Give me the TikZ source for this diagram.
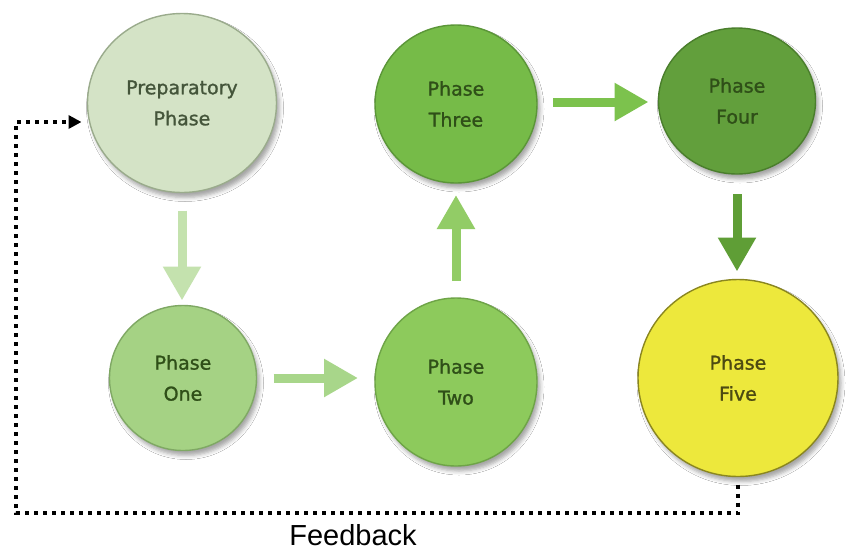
\documentclass[tikz,border=0pt]{standalone}
\usepackage{fontspec}
\setmainfont{DejaVu Sans}
\newfontfamily\fbfont{Liberation Sans}
\usetikzlibrary{arrows.meta,shapes.geometric,shadows.blur}
\definecolor{prepfill}{HTML}{D4E3C6}\definecolor{prepline}{HTML}{9AAB8C}
\definecolor{onefill}{HTML}{A5D284}\definecolor{oneline}{HTML}{7FA864}
\definecolor{twofill}{HTML}{8DCA5C}\definecolor{twoline}{HTML}{6EA447}
\definecolor{threefill}{HTML}{76BB48}\definecolor{threeline}{HTML}{5B9638}
\definecolor{fourfill}{HTML}{629F3C}\definecolor{fourline}{HTML}{4A7E2C}
\definecolor{fivefill}{HTML}{EDE83C}\definecolor{fiveline}{HTML}{8A8620}
\definecolor{txtgreen}{HTML}{2F4F18}\definecolor{txtprep}{HTML}{44553A}
\definecolor{txtfive}{HTML}{4D4A12}
\definecolor{aone}{HTML}{C4E2AE}\definecolor{atwo}{HTML}{A8D68A}
\definecolor{athree}{HTML}{92CC66}\definecolor{afour}{HTML}{7CC24D}
\definecolor{afive}{HTML}{5F9E36}
\newcommand{\phtext}[2]{\raisebox{-3pt}{\parbox{#1}{\centering #2}}}
\begin{document}
\begin{tikzpicture}[x=1pt,y=-1pt,
  phasebox/.style={ellipse, draw, line width=1.4pt, inner sep=0pt, outer sep=0pt,
    align=center, font=\fontsize{19}{31}\selectfont\addfontfeature{FakeBold=1.2},
    blur shadow={shadow xshift=3pt, shadow yshift=-5pt, shadow blur radius=4pt, shadow opacity=35}},
  bigarrow/.style={line width=9pt, -{Triangle[length=34pt,width=36pt]}},
  fbline/.style={line width=4pt, dash pattern=on 4pt off 5pt, black},
]
\useasboundingbox (0,0) rectangle (849,550);
\fill[white] (0,0) rectangle (849,550);

\node[phasebox, fill=prepfill, draw=prepline, text=txtprep, minimum width=189pt, minimum height=179pt] (prep) at (182,103) {\phtext{120pt}{Preparatory\\Phase}};
\node[phasebox, fill=onefill, draw=oneline, text=txtgreen, minimum width=147pt, minimum height=145pt] (one) at (183,378) {\phtext{80pt}{Phase\\One}};
\node[phasebox, fill=twofill, draw=twoline, text=txtgreen, minimum width=162pt, minimum height=168pt] (two) at (456,382) {\phtext{80pt}{Phase\\Two}};
\node[phasebox, fill=threefill, draw=threeline, text=txtgreen, minimum width=162pt, minimum height=158pt] (three) at (456,104) {\phtext{80pt}{Phase\\Three}};
\node[phasebox, fill=fourfill, draw=fourline, text=txtgreen, minimum width=157pt, minimum height=146pt] (four) at (737,101) {\phtext{80pt}{Phase\\Four}};
\node[phasebox, fill=fivefill, draw=fiveline, text=txtfive, minimum width=200pt, minimum height=197pt] (five) at (738,378) {\phtext{80pt}{Phase\\Five}};

\draw[bigarrow, aone, shorten <=18pt, shorten >=5pt] (prep.south) -- (prep.south |- one.north);
\draw[bigarrow, atwo, shorten <=17pt, shorten >=17pt] (one.east) -- (one.east -| two.west);
\draw[bigarrow, athree, shorten <=17pt, shorten >=12pt] (two.north) -- (two.north |- three.south);
\draw[bigarrow, afour, shorten <=16pt, shorten >=10pt] ([yshift=2pt]three.east) -- ([yshift=2pt]three.east -| four.west);
\draw[bigarrow, afive, shorten <=20pt, shorten >=8pt] (four.south) -- (four.south |- five.north);

\coordinate (fb1) at (738,513);
\coordinate (fb2) at (16,513);
\coordinate (fb3) at (16,122);
\draw[fbline, shorten <=8pt, shorten >=6pt, -{Triangle[length=13pt,width=13pt]}]
  (five.south) -- (fb1) -- (fb2) -- (fb3) -- (fb3 -| prep.west);

\node[font=\fbfont\fontsize{29}{34}\selectfont, anchor=base, inner sep=0pt] (fb) at (353,545) {Feedback};
\end{tikzpicture}
\end{document}
